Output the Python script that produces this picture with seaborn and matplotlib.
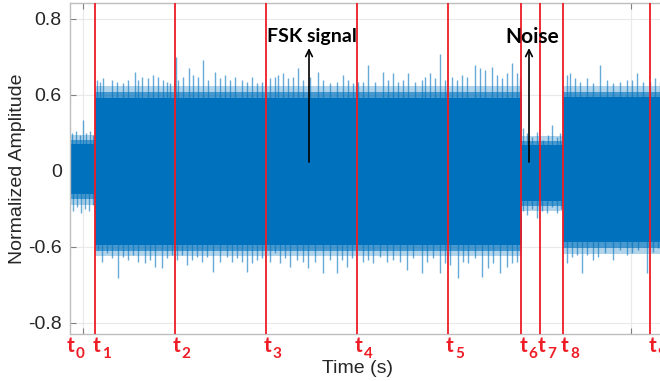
import numpy as np
import pandas as pd
import seaborn as sns
import matplotlib
matplotlib.use("Agg")
import matplotlib.pyplot as plt
from matplotlib.transforms import blended_transform_factory

# ---------------- data ----------------
# signal segments: start, end, dense core levels and two "fuzz" levels
seg_start = [0.0, 2.5, 45.15, 49.25]
seg_end = [2.5, 45.15, 49.25, 60.0]
core_top = [0.14, 0.385, 0.135, 0.39]
core_bot = [-0.12, -0.39, -0.16, -0.375]
fuzz_top = [0.165, 0.415, 0.16, 0.415]
fuzz_bot = [-0.15, -0.42, -0.185, -0.405]
fuzz2_top = [0.19, 0.445, 0.185, 0.445]
fuzz2_bot = [-0.18, -0.45, -0.21, -0.435]

# upper peaks
top_x = [0.2, 0.6, 1.0, 1.25, 1.6, 2.0, 2.3,
         2.67, 3.0, 3.33, 4.17, 4.67, 5.33, 5.83, 6.5, 6.83, 7.17, 7.83, 8.33, 8.83, 9.33, 9.67, 10.0,
         10.6, 10.83, 11.33, 11.93, 12.33, 12.83, 13.33, 13.83, 14.5, 15.0, 15.5, 16.0, 16.5, 17.17,
         17.67, 18.17, 18.67, 19.17, 20.0, 20.5, 20.83, 21.33, 21.83, 22.33, 22.83, 23.33, 24.0, 24.83,
         25.33, 26.0, 26.67, 27.33, 27.83, 28.33, 28.8, 29.33, 29.83, 30.5, 31.33, 31.83, 32.33, 32.83,
         33.33, 33.83, 34.5, 35.17, 35.5, 36.0, 36.5, 37.0, 37.5, 38.17, 38.67, 39.17, 39.67, 40.5,
         41.0, 41.5, 42.17, 42.67, 43.17, 43.67, 44.17, 44.67, 45.0,
         45.33, 45.67, 46.17, 46.67, 47.33, 47.83, 48.17, 48.67, 49.0,
         49.67, 50.0, 50.5, 51.0, 51.67, 52.33, 53.0, 53.67, 54.33, 55.0, 55.67, 56.17, 56.67, 57.33,
         58.0, 58.5, 59.0]
top_v = [0.20, 0.21, 0.19, 0.27, 0.20, 0.21, 0.19,
         0.479, 0.470, 0.488, 0.479, 0.470, 0.461, 0.479, 0.523, 0.479, 0.496, 0.488, 0.505, 0.496, 0.479, 0.470, 0.461,
         0.602, 0.479, 0.496, 0.540, 0.505, 0.496, 0.584, 0.479, 0.523, 0.488, 0.505, 0.479, 0.496, 0.479,
         0.470, 0.496, 0.461, 0.470, 0.488, 0.496, 0.505, 0.514, 0.488, 0.496, 0.540, 0.479, 0.496, 0.523,
         0.479, 0.461, 0.470, 0.505, 0.479, 0.461, 0.470, 0.470, 0.558, 0.470, 0.523, 0.479, 0.514, 0.470,
         0.479, 0.514, 0.470, 0.479, 0.496, 0.514, 0.488, 0.616, 0.479, 0.496, 0.479, 0.505, 0.496, 0.558,
         0.540, 0.532, 0.549, 0.505, 0.488, 0.514, 0.567, 0.514, 0.488,
         0.225, 0.198, 0.181, 0.207, 0.163, 0.189, 0.242, 0.181, 0.198,
         0.505, 0.514, 0.488, 0.470, 0.488, 0.461, 0.558, 0.479, 0.461, 0.470, 0.479, 0.479, 0.514, 0.470,
         0.470, 0.488, 0.470]

# lower peaks
bot_x = [0.3, 0.7, 1.1, 1.5, 1.9, 2.3,
         2.83, 3.17, 3.67, 4.17, 4.83, 5.33, 5.83, 6.33, 6.83, 7.5, 8.0, 8.5, 9.17, 9.67, 10.17,
         10.67, 11.17, 11.67, 12.17, 12.67, 13.17, 13.67, 14.33, 15.0, 15.67, 16.17, 16.67, 17.17, 17.67,
         18.17, 18.67, 19.17, 20.0, 20.5, 21.0, 21.5, 22.0, 22.67, 23.33, 23.83, 24.5, 25.33, 26.0,
         26.67, 27.17, 27.67, 28.17, 29.33, 29.83, 30.33, 31.0, 31.67, 32.33, 33.0, 33.67, 34.33, 35.17,
         35.67, 36.33, 37.0, 37.5, 38.0, 38.83, 39.33, 39.83, 40.5, 41.17, 41.83, 42.33, 43.0, 43.67,
         44.17, 44.67,
         45.3, 45.7, 46.2, 46.7, 47.2, 47.7, 48.2, 48.7, 49.1,
         49.67, 50.17, 50.67, 51.17, 51.67, 52.33, 52.83, 53.5, 54.33, 55.0, 55.67, 56.17, 56.83, 57.67,
         58.33, 58.83]
bot_v = [-0.21, -0.19, -0.22, -0.20, -0.21, -0.18,
         -0.416, -0.477, -0.433, -0.460, -0.565, -0.451, -0.468, -0.442, -0.477, -0.486, -0.468, -0.504, -0.513, -0.460, -0.442,
         -0.468, -0.442, -0.495, -0.468, -0.451, -0.477, -0.451, -0.530, -0.477, -0.451, -0.477, -0.460, -0.477, -0.530,
         -0.486, -0.468, -0.460, -0.477, -0.433, -0.486, -0.460, -0.504, -0.468, -0.477, -0.513, -0.477, -0.539, -0.468,
         -0.539, -0.468, -0.504, -0.460, -0.477, -0.468, -0.486, -0.451, -0.477, -0.468, -0.477, -0.521, -0.460, -0.539,
         -0.477, -0.460, -0.539, -0.486, -0.495, -0.565, -0.477, -0.486, -0.460, -0.556, -0.513, -0.486, -0.539, -0.504,
         -0.486, -0.477,
         -0.21, -0.23, -0.20, -0.25, -0.21, -0.22, -0.19, -0.22, -0.20,
         -0.486, -0.451, -0.442, -0.539, -0.442, -0.468, -0.451, -0.433, -0.468, -0.416, -0.442, -0.433, -0.416, -0.539,
         -0.425, -0.407]

# event markers t1..t9 (t0 has no line)
t_names = ["0", "1", "2", "3", "4", "5", "6", "7", "8", "9"]
t_pos = [-0.1, 2.5, 10.47, 19.57, 28.67, 37.8, 45.12, 47.0, 49.3, 58.03]
t_has_line = [False, True, True, True, True, True, True, True, True, True]

ytick_pos = [0.8, 0.4, 0.0, -0.4, -0.8]
ytick_lab = ["0.8", "0.6", "0", "-0.6", "-0.8"]
xgrid_pos = [1.3, 56.1]

annot_text = ["FSK signal", "Noise"]
annot_x = [23.9, 45.9]
annot_text_y = [0.71, 0.705]
annot_tail_y = [0.047, 0.047]
annot_head_y = [0.647, 0.647]
annot_size = [14, 15]

# ---------------- style ----------------
sns.set_theme(style="whitegrid", rc={
    "grid.color": "#e9e9e9", "grid.linewidth": 0.8,
    "axes.edgecolor": "#bdbdbd", "axes.linewidth": 1.0,
})
plt.rcParams['font.family'] = ['Liberation Sans', 'DejaVu Sans']

BLUE = "#0072BD"
RED = "#ee1c25"

fig = plt.figure(figsize=(6.6, 3.81), dpi=100)
ax = fig.add_axes([70 / 660, 47 / 381, 600 / 660, 331 / 381])

# dense core and fuzz bands
for s, e, ct, cb, ft, fb, f2t, f2b in zip(seg_start, seg_end, core_top, core_bot,
                                         fuzz_top, fuzz_bot, fuzz2_top, fuzz2_bot):
    ax.fill_between([s, e], [f2b, f2b], [f2t, f2t], color=BLUE, alpha=0.3, lw=0, zorder=2)
    ax.fill_between([s, e], [fb, fb], [ft, ft], color=BLUE, alpha=0.6, lw=0, zorder=2)
    ax.fill_between([s, e], [cb, cb], [ct, ct], color=BLUE, lw=0, zorder=2)

# peaks
ax.vlines(top_x, 0, top_v, color=BLUE, lw=1.0, alpha=0.6, zorder=2)
ax.vlines(bot_x, 0, bot_v, color=BLUE, lw=1.0, alpha=0.6, zorder=2)

# red event lines
for x, has in zip(t_pos, t_has_line):
    if has:
        ax.axvline(x, color=RED, lw=1.3, zorder=3)

# t labels
trans = blended_transform_factory(ax.transData, ax.transAxes)
for name, x in zip(t_names, t_pos):
    ax.annotate("t", xy=(x, 0), xycoords=trans, xytext=(-2, -18), textcoords="offset pixels",
                ha="left", va="baseline", color=RED, fontsize=15, fontweight="bold",
                family=["Lato", "DejaVu Sans"], annotation_clip=False)
    ax.annotate(name, xy=(x, 0), xycoords=trans, xytext=(7, -24), textcoords="offset pixels",
                ha="left", va="baseline", color=RED, fontsize=11, fontweight="bold",
                family=["Lato", "DejaVu Sans"], annotation_clip=False)

# annotations
for txt, x, ty, y0, y1, fs in zip(annot_text, annot_x, annot_text_y, annot_tail_y, annot_head_y, annot_size):
    ax.annotate("", xy=(x, y1), xytext=(x, y0),
                arrowprops=dict(arrowstyle="->", color="black", lw=1.2, shrinkA=0, shrinkB=0), zorder=5)
    ax.text(x + 0.3, ty, txt, ha="center", va="center", fontsize=fs, fontweight="bold",
            family=["Lato", "DejaVu Sans"], color="black", zorder=5)

ax.set_xlim(0, 60)
ax.set_ylim(-0.858, 0.884)
ax.set_yticks(ytick_pos)
ax.set_yticklabels(ytick_lab)
ax.set_xticks(xgrid_pos)
ax.set_xticklabels(["", ""])
ax.tick_params(axis="both", direction="in", length=4, color="#808080", width=0.8,
               labelsize=14, labelcolor="#262626", top=True, bottom=True, left=True)
ax.tick_params(axis="y", pad=6)
ax.grid(True)
ax.spines["right"].set_visible(False)

ax.set_ylabel("Normalized Amplitude", fontsize=14, color="#262626")
ax.yaxis.set_label_coords(-0.074, 0.5)
ax.set_xlabel("Time (s)", fontsize=14, color="#262626")
ax.xaxis.set_label_coords(0.48, -0.078)

fig.savefig("out.png", dpi=100)
